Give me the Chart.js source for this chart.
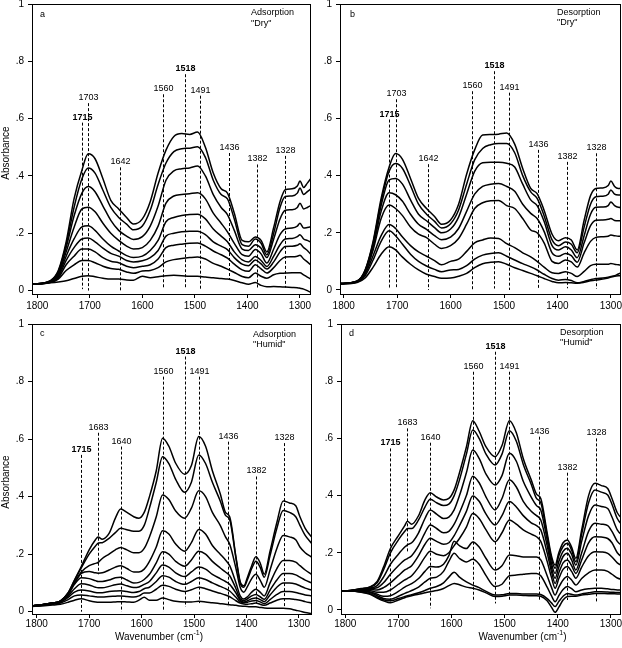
<!DOCTYPE html>
<html><head><meta charset="utf-8">
<script src="https://cdn.jsdelivr.net/npm/chart.js@4.4.1/dist/chart.umd.min.js"></script>
<style>
html,body{margin:0;padding:0;background:#fff;width:622px;height:648px;overflow:hidden}
canvas{position:absolute}
</style></head><body>
<canvas id="pa" width="318" height="316" style="left:0px;top:0px"></canvas>
<canvas id="pb" width="304" height="316" style="left:318px;top:0px"></canvas>
<canvas id="pc" width="318" height="332" style="left:0px;top:316px"></canvas>
<canvas id="pd" width="304" height="332" style="left:318px;top:316px"></canvas>
<script>
// ---------- wavenumber grids (cm-1) ----------
const gridDry = [1810,1775,1760,1745,1730,1715,1703,1690,1675,1660,1645,1630,1617,1600,1585,1570,1555,1540,1525,1510,1495,1480,1465,1450,1438,1425,1410,1398,1385,1374,1363,1350,1338,1328,1315,1305,1300,1293,1286,1276];
const gridHumid = [1810,1790,1770,1755,1740,1728,1715,1700,1688,1683,1675,1662,1650,1640,1628,1615,1605,1595,1585,1572,1560,1548,1535,1518,1505,1491,1478,1465,1450,1440,1432,1420,1412,1405,1398,1390,1382,1374,1366,1355,1342,1330,1318,1306,1298,1288,1276];

// ---------- (a) adsorption, "dry" ----------
const adsorptionDry = [
[0.022,0.035,0.07,0.17,0.32,0.42,0.477,0.46,0.39,0.315,0.285,0.255,0.232,0.25,0.31,0.41,0.49,0.538,0.548,0.545,0.553,0.50,0.41,0.355,0.34,0.27,0.175,0.17,0.187,0.175,0.135,0.22,0.31,0.352,0.355,0.365,0.382,0.36,0.375,0.40],
[0.022,0.034,0.066,0.16,0.29,0.39,0.428,0.41,0.35,0.29,0.255,0.232,0.212,0.225,0.28,0.37,0.445,0.485,0.495,0.497,0.502,0.465,0.385,0.335,0.32,0.25,0.16,0.155,0.18,0.165,0.125,0.2,0.29,0.328,0.33,0.34,0.358,0.335,0.345,0.36],
[0.022,0.033,0.062,0.15,0.26,0.34,0.363,0.345,0.295,0.245,0.21,0.19,0.178,0.188,0.225,0.295,0.385,0.418,0.425,0.428,0.435,0.40,0.335,0.29,0.265,0.21,0.145,0.14,0.16,0.148,0.115,0.18,0.25,0.28,0.282,0.29,0.305,0.285,0.29,0.30],
[0.022,0.032,0.057,0.135,0.22,0.285,0.291,0.275,0.235,0.2,0.175,0.155,0.145,0.15,0.175,0.225,0.305,0.33,0.335,0.338,0.341,0.32,0.27,0.235,0.205,0.165,0.125,0.12,0.143,0.128,0.096,0.145,0.195,0.215,0.218,0.225,0.235,0.218,0.22,0.224],
[0.022,0.031,0.052,0.12,0.18,0.222,0.226,0.21,0.18,0.155,0.138,0.122,0.115,0.12,0.14,0.175,0.24,0.255,0.262,0.265,0.266,0.25,0.215,0.19,0.17,0.135,0.107,0.1,0.119,0.105,0.084,0.12,0.16,0.18,0.182,0.188,0.195,0.18,0.175,0.166],
[0.022,0.03,0.048,0.105,0.15,0.18,0.183,0.17,0.148,0.13,0.12,0.105,0.1,0.104,0.115,0.14,0.19,0.2,0.205,0.207,0.207,0.195,0.17,0.155,0.143,0.115,0.092,0.087,0.107,0.093,0.075,0.1,0.135,0.154,0.155,0.158,0.163,0.15,0.14,0.119],
[0.022,0.029,0.044,0.09,0.12,0.145,0.145,0.135,0.115,0.102,0.097,0.085,0.08,0.085,0.09,0.11,0.15,0.158,0.162,0.165,0.166,0.155,0.138,0.125,0.113,0.092,0.072,0.067,0.09,0.076,0.061,0.08,0.105,0.117,0.118,0.12,0.123,0.11,0.1,0.084],
[0.022,0.028,0.04,0.07,0.09,0.105,0.105,0.097,0.085,0.077,0.074,0.065,0.06,0.068,0.07,0.08,0.1,0.108,0.112,0.115,0.117,0.11,0.095,0.085,0.075,0.063,0.049,0.045,0.061,0.05,0.043,0.055,0.06,0.061,0.062,0.062,0.062,0.055,0.047,0.037],
[0.022,0.027,0.03,0.034,0.042,0.05,0.052,0.048,0.043,0.04,0.04,0.037,0.036,0.05,0.045,0.048,0.052,0.053,0.052,0.05,0.05,0.047,0.045,0.042,0.04,0.035,0.027,0.022,0.028,0.018,0.013,0.014,0.013,0.012,0.011,0.01,0.008,0.005,0.0,-0.01]
];

// ---------- (b) desorption, "dry" ----------
const desorptionDry = [
[0.022,0.032,0.07,0.17,0.32,0.43,0.477,0.457,0.39,0.32,0.285,0.257,0.23,0.245,0.3,0.405,0.49,0.542,0.544,0.545,0.549,0.51,0.425,0.355,0.337,0.279,0.195,0.172,0.183,0.175,0.14,0.244,0.33,0.355,0.357,0.365,0.381,0.362,0.355,0.36],
[0.022,0.031,0.068,0.165,0.31,0.415,0.442,0.425,0.365,0.3,0.265,0.24,0.217,0.232,0.28,0.37,0.455,0.495,0.508,0.512,0.512,0.48,0.4,0.343,0.32,0.26,0.175,0.155,0.168,0.16,0.13,0.22,0.3,0.326,0.328,0.335,0.35,0.335,0.332,0.332],
[0.022,0.031,0.066,0.16,0.295,0.385,0.39,0.37,0.315,0.265,0.242,0.218,0.2,0.213,0.255,0.335,0.415,0.445,0.447,0.447,0.443,0.43,0.37,0.315,0.295,0.24,0.155,0.14,0.151,0.14,0.113,0.19,0.265,0.289,0.29,0.295,0.308,0.295,0.289,0.288],
[0.022,0.03,0.064,0.15,0.275,0.34,0.333,0.31,0.265,0.23,0.212,0.19,0.176,0.185,0.215,0.275,0.335,0.362,0.37,0.372,0.362,0.345,0.3,0.268,0.25,0.205,0.13,0.118,0.128,0.12,0.097,0.165,0.225,0.244,0.245,0.247,0.25,0.243,0.242,0.242],
[0.022,0.03,0.062,0.14,0.25,0.297,0.285,0.26,0.22,0.195,0.183,0.16,0.145,0.155,0.18,0.23,0.285,0.305,0.312,0.313,0.295,0.285,0.25,0.21,0.2,0.165,0.1,0.093,0.105,0.098,0.08,0.13,0.17,0.184,0.186,0.188,0.192,0.19,0.188,0.188],
[0.022,0.029,0.055,0.12,0.19,0.229,0.215,0.185,0.155,0.133,0.118,0.103,0.088,0.1,0.108,0.135,0.165,0.175,0.182,0.18,0.162,0.148,0.13,0.116,0.1,0.08,0.06,0.058,0.064,0.058,0.047,0.065,0.085,0.09,0.09,0.09,0.093,0.09,0.088,0.085],
[0.021,0.028,0.05,0.105,0.17,0.207,0.19,0.16,0.125,0.1,0.084,0.072,0.064,0.07,0.072,0.085,0.108,0.122,0.128,0.13,0.118,0.105,0.092,0.081,0.07,0.055,0.04,0.034,0.037,0.033,0.025,0.03,0.036,0.04,0.042,0.045,0.047,0.05,0.056,0.064],
[0.02,0.026,0.042,0.08,0.125,0.151,0.14,0.115,0.09,0.07,0.055,0.047,0.041,0.042,0.048,0.058,0.078,0.092,0.097,0.099,0.09,0.078,0.068,0.058,0.05,0.04,0.03,0.025,0.026,0.025,0.024,0.027,0.032,0.035,0.038,0.042,0.045,0.048,0.05,0.052]
];

// ---------- (c) adsorption, "humid" ----------
const adsorptionHumid = [
[0.02,0.024,0.03,0.037,0.066,0.11,0.157,0.215,0.25,0.26,0.252,0.272,0.325,0.357,0.345,0.33,0.325,0.345,0.4,0.49,0.603,0.575,0.516,0.478,0.508,0.609,0.575,0.49,0.41,0.345,0.33,0.19,0.105,0.09,0.12,0.16,0.191,0.17,0.13,0.21,0.31,0.385,0.378,0.368,0.33,0.29,0.26],
[0.02,0.024,0.03,0.037,0.065,0.108,0.152,0.2,0.228,0.238,0.24,0.255,0.275,0.29,0.285,0.28,0.28,0.3,0.36,0.45,0.539,0.515,0.46,0.415,0.45,0.545,0.515,0.45,0.385,0.335,0.32,0.185,0.1,0.085,0.112,0.15,0.175,0.155,0.12,0.195,0.29,0.352,0.345,0.33,0.3,0.265,0.238],
[0.02,0.024,0.03,0.037,0.063,0.1,0.138,0.16,0.168,0.171,0.185,0.2,0.215,0.223,0.215,0.205,0.205,0.22,0.26,0.33,0.406,0.39,0.35,0.325,0.36,0.42,0.4,0.345,0.3,0.26,0.235,0.15,0.085,0.068,0.088,0.115,0.13,0.11,0.085,0.145,0.22,0.265,0.26,0.25,0.225,0.205,0.19],
[0.02,0.024,0.03,0.037,0.062,0.1,0.133,0.14,0.135,0.134,0.135,0.145,0.155,0.16,0.15,0.138,0.138,0.148,0.175,0.225,0.281,0.27,0.235,0.21,0.24,0.286,0.27,0.23,0.2,0.18,0.16,0.1,0.055,0.044,0.052,0.068,0.078,0.068,0.055,0.1,0.15,0.178,0.178,0.172,0.16,0.145,0.13],
[0.02,0.024,0.03,0.037,0.06,0.095,0.118,0.115,0.108,0.105,0.105,0.11,0.118,0.12,0.11,0.1,0.102,0.112,0.13,0.17,0.208,0.2,0.175,0.158,0.18,0.21,0.2,0.175,0.152,0.138,0.125,0.08,0.045,0.039,0.045,0.055,0.06,0.052,0.043,0.075,0.11,0.133,0.133,0.128,0.12,0.11,0.1],
[0.02,0.024,0.029,0.035,0.055,0.08,0.097,0.093,0.085,0.083,0.083,0.088,0.094,0.096,0.09,0.084,0.086,0.095,0.105,0.135,0.162,0.155,0.135,0.122,0.138,0.155,0.148,0.13,0.115,0.105,0.095,0.065,0.04,0.034,0.038,0.045,0.048,0.042,0.035,0.058,0.085,0.1,0.1,0.096,0.09,0.082,0.075],
[0.02,0.023,0.028,0.033,0.05,0.068,0.075,0.072,0.067,0.066,0.066,0.07,0.072,0.073,0.07,0.067,0.07,0.08,0.085,0.105,0.125,0.12,0.105,0.095,0.105,0.118,0.112,0.1,0.088,0.08,0.072,0.05,0.035,0.031,0.033,0.037,0.039,0.034,0.028,0.042,0.06,0.07,0.07,0.067,0.063,0.058,0.055],
[0.019,0.022,0.026,0.03,0.042,0.055,0.058,0.055,0.052,0.051,0.051,0.053,0.054,0.055,0.053,0.051,0.055,0.065,0.065,0.078,0.092,0.088,0.078,0.07,0.076,0.085,0.08,0.072,0.064,0.058,0.052,0.038,0.03,0.027,0.026,0.028,0.03,0.026,0.022,0.03,0.04,0.045,0.045,0.042,0.04,0.035,0.03],
[0.018,0.02,0.023,0.026,0.033,0.04,0.045,0.038,0.034,0.033,0.033,0.033,0.034,0.035,0.034,0.033,0.04,0.05,0.04,0.04,0.048,0.042,0.036,0.034,0.034,0.036,0.034,0.031,0.028,0.026,0.024,0.022,0.02,0.019,0.018,0.017,0.017,0.015,0.013,0.012,0.012,0.012,0.01,0.005,0.002,-0.003,-0.006]
];

// ---------- (d) desorption, "humid" ----------
const desorptionHumid = [
[0.066,0.068,0.075,0.08,0.1,0.15,0.215,0.26,0.295,0.31,0.3,0.33,0.385,0.41,0.395,0.385,0.39,0.42,0.48,0.57,0.662,0.625,0.57,0.536,0.575,0.662,0.62,0.53,0.455,0.405,0.39,0.27,0.19,0.157,0.2,0.235,0.245,0.22,0.181,0.28,0.4,0.443,0.435,0.425,0.39,0.34,0.315],
[0.066,0.068,0.074,0.079,0.095,0.14,0.2,0.245,0.275,0.285,0.285,0.315,0.36,0.387,0.375,0.365,0.37,0.4,0.455,0.545,0.629,0.6,0.545,0.507,0.545,0.627,0.59,0.51,0.44,0.39,0.375,0.26,0.18,0.146,0.19,0.222,0.233,0.21,0.169,0.265,0.375,0.42,0.412,0.402,0.37,0.32,0.291],
[0.066,0.068,0.073,0.077,0.085,0.115,0.16,0.195,0.22,0.228,0.235,0.27,0.32,0.35,0.335,0.32,0.325,0.35,0.4,0.48,0.559,0.53,0.475,0.437,0.47,0.548,0.52,0.45,0.395,0.365,0.35,0.245,0.165,0.128,0.17,0.205,0.216,0.195,0.157,0.24,0.33,0.367,0.362,0.355,0.325,0.28,0.256],
[0.066,0.068,0.072,0.075,0.078,0.095,0.125,0.155,0.175,0.18,0.19,0.225,0.27,0.297,0.285,0.27,0.275,0.3,0.34,0.4,0.468,0.445,0.395,0.35,0.39,0.455,0.43,0.38,0.345,0.33,0.315,0.225,0.15,0.111,0.15,0.187,0.198,0.175,0.14,0.2,0.275,0.303,0.3,0.295,0.275,0.24,0.221],
[0.066,0.067,0.07,0.072,0.07,0.078,0.095,0.12,0.14,0.145,0.155,0.19,0.23,0.251,0.24,0.23,0.235,0.26,0.295,0.345,0.399,0.38,0.335,0.297,0.33,0.379,0.36,0.33,0.305,0.295,0.28,0.2,0.135,0.093,0.13,0.165,0.175,0.155,0.128,0.175,0.235,0.256,0.255,0.25,0.235,0.2,0.181],
[0.066,0.067,0.068,0.068,0.062,0.062,0.07,0.09,0.105,0.11,0.12,0.15,0.185,0.205,0.195,0.19,0.2,0.225,0.25,0.29,0.337,0.32,0.28,0.239,0.27,0.315,0.3,0.28,0.265,0.256,0.24,0.17,0.115,0.076,0.11,0.142,0.152,0.135,0.111,0.15,0.19,0.204,0.203,0.198,0.185,0.165,0.152],
[0.066,0.066,0.066,0.064,0.055,0.048,0.05,0.065,0.08,0.085,0.092,0.11,0.135,0.152,0.15,0.16,0.19,0.24,0.225,0.215,0.238,0.22,0.18,0.14,0.155,0.192,0.19,0.185,0.185,0.185,0.175,0.12,0.08,0.052,0.08,0.105,0.117,0.105,0.087,0.11,0.13,0.14,0.14,0.135,0.125,0.112,0.105],
[0.066,0.066,0.065,0.062,0.05,0.04,0.038,0.048,0.058,0.062,0.068,0.08,0.098,0.111,0.115,0.135,0.17,0.198,0.18,0.168,0.177,0.16,0.12,0.082,0.09,0.12,0.122,0.125,0.128,0.128,0.12,0.08,0.05,0.029,0.05,0.072,0.082,0.075,0.064,0.07,0.074,0.076,0.076,0.074,0.072,0.07,0.07],
[0.066,0.066,0.063,0.058,0.045,0.036,0.032,0.04,0.047,0.05,0.053,0.06,0.068,0.076,0.082,0.095,0.115,0.132,0.115,0.098,0.087,0.078,0.065,0.052,0.053,0.058,0.058,0.056,0.056,0.056,0.054,0.04,0.025,0.012,0.03,0.048,0.058,0.055,0.052,0.056,0.06,0.064,0.064,0.063,0.062,0.061,0.061],
[0.066,0.066,0.062,0.056,0.042,0.032,0.025,0.035,0.043,0.046,0.05,0.055,0.06,0.064,0.068,0.075,0.085,0.093,0.088,0.08,0.076,0.07,0.06,0.047,0.048,0.052,0.052,0.051,0.05,0.05,0.048,0.032,0.01,-0.008,0.01,0.035,0.047,0.048,0.048,0.052,0.055,0.058,0.058,0.057,0.057,0.056,0.056]
];

// ---------- band markers ----------
const bandsDry = [1715,1703,1642,1560,1518,1491,1436,1382,1328];
const bandsHumid = [1715,1683,1640,1560,1518,1491,1436,1382,1328];
const boldBands = [1715,1518];
const markTopA = [0.586,0.654,0.43,0.685,0.755,0.68,0.48,0.44,0.47];
const markBotA = [0.005,0.0,0.0,0.01,0.01,0.005,0.04,0.01,0.01];
const markTopB = [0.596,0.667,0.44,0.695,0.765,0.69,0.49,0.448,0.478];
const markBotB = [0.006,0.01,0.0,0.0,0.005,0.0,0.004,0.006,0.004];
const markTopC = [0.545,0.622,0.574,0.817,0.887,0.817,0.591,0.47,0.586];
const markBotC = [0.0,0.13,0.0,0.0,0.017,0.03,0.017,0.03,0.017];
const markTopD = [0.565,0.635,0.585,0.833,0.903,0.833,0.606,0.48,0.6];
const markBotD = [0.023,0.2,0.006,0.035,0.023,0.033,0.029,0.035,0.023];

const FONT = '"Liberation Sans", Arial, Helvetica, sans-serif';

const panelPlugin = {
  id: 'panel',
  afterDatasetsDraw(chart) {
    const p = chart.options.plugins.panel;
    const {ctx, chartArea: ca, scales: {x, y}} = chart;
    ctx.save();
    ctx.strokeStyle = '#000';
    ctx.fillStyle = '#000';
    ctx.lineWidth = 1;
    // dashed band markers
    ctx.setLineDash([3, 2]);
    p.bands.forEach((w, i) => {
      const px = Math.round(x.getPixelForValue(w)) + 0.5;
      const yt = y.getPixelForValue(p.top[i]);
      const yb = y.getPixelForValue(p.bot[i]);
      ctx.beginPath(); ctx.moveTo(px, yt); ctx.lineTo(px, yb); ctx.stroke();
      ctx.font = (boldBands.includes(w) ? 'bold ' : '') + '9px ' + FONT;
      ctx.textAlign = 'center'; ctx.textBaseline = 'alphabetic';
      ctx.fillText(String(w), px, yt - 3);
    });
    ctx.setLineDash([]);
    // frame
    ctx.strokeRect(ca.left + 0.5, ca.top + 0.5, ca.right - ca.left - 1, ca.bottom - ca.top);
    // panel texts
    ctx.font = '9px ' + FONT;
    ctx.textAlign = 'left'; ctx.textBaseline = 'middle';
    ctx.fillText(p.letter, p.letterPos[0], p.letterPos[1]);
    ctx.fillText(p.mode, p.modePos[0], p.modePos[1]);
    ctx.fillText(p.cond, p.modePos[0], p.modePos[1] + p.lineGap);
    // axis titles
    if (p.yTitle) {
      ctx.save();
      ctx.font = '10px ' + FONT;
      ctx.translate(p.yTitlePos[0], p.yTitlePos[1]);
      ctx.rotate(-Math.PI / 2);
      ctx.textAlign = 'center'; ctx.textBaseline = 'middle';
      ctx.fillText(p.yTitle, 0, 0);
      ctx.restore();
    }
    if (p.xTitle) {
      ctx.font = '10px ' + FONT;
      ctx.textBaseline = 'middle';
      const a = 'Wavenumber (cm', sup = '-1', b = ')';
      const wa = ctx.measureText(a).width, wb = ctx.measureText(b).width;
      ctx.font = '7px ' + FONT;
      const ws = ctx.measureText(sup).width;
      let sx = p.xTitlePos[0] - (wa + ws + wb) / 2;
      const sy = p.xTitlePos[1];
      ctx.font = '10px ' + FONT; ctx.textAlign = 'left';
      ctx.fillText(a, sx, sy);
      ctx.font = '7px ' + FONT;
      ctx.fillText(sup, sx + wa, sy - 4);
      ctx.font = '10px ' + FONT;
      ctx.fillText(b, sx + wa + ws, sy);
    }
    ctx.restore();
  }
};

function yFmt(v) {
  const r = Math.round(v * 10) / 10;
  if (r === 0) return '0';
  if (r === 1) return '1';
  return String(r).replace('0.', '.');
}
function xFmt(v) { return String(Math.round(v)); }

function build(id, grid, curves, o) {
  const datasets = curves.map(c => ({
    data: grid.map((w, i) => ({x: w, y: c[i]})),
    borderColor: '#000', borderWidth: 1.5, pointRadius: 0,
    cubicInterpolationMode: 'monotone', fill: false
  }));
  new Chart(document.getElementById(id), {
    type: 'line',
    data: {datasets},
    plugins: [panelPlugin],
    options: {
      responsive: false, animation: false, devicePixelRatio: 1,
      layout: {padding: {left: 0, right: o.padR, top: o.padT, bottom: 0}},
      plugins: {
        legend: {display: false}, tooltip: {enabled: false},
        panel: o.panel
      },
      scales: {
        x: {
          type: 'linear', reverse: true, min: o.xMin, max: o.xMax,
          ticks: {stepSize: 100, includeBounds: false, color: '#000', font: {family: FONT, size: 10}, padding: o.xPad, maxRotation: 0, autoSkip: false, callback: xFmt},
          grid: {drawOnChartArea: false, drawTicks: true, tickLength: 4, color: '#000'},
          border: {display: false},
          afterFit: s => { s.height = o.xH; s.paddingLeft = 0; s.paddingRight = 0; }
        },
        y: {
          type: 'linear', min: o.yMin, max: 1,
          ticks: {stepSize: 0.2, includeBounds: false, color: '#000', font: {family: FONT, size: 10}, padding: 4, callback: yFmt},
          grid: {drawOnChartArea: false, drawTicks: true, tickLength: 4, color: '#000'},
          border: {display: false},
          afterFit: s => { s.width = o.yW; s.paddingTop = 0; s.paddingBottom = 0; }
        }
      }
    }
  });
}

build('pa', gridDry, adsorptionDry, {
  xMin: 1279, xMax: 1810, yMin: -0.012, padR: 7, padT: 4, xH: 22, yW: 32, xPad: 2,
  panel: {bands: bandsDry, top: markTopA, bot: markBotA, letter: 'a', letterPos: [40, 15],
    mode: 'Adsorption', cond: '"Dry"', modePos: [251, 13], lineGap: 10.5,
    yTitle: 'Absorbance', yTitlePos: [6, 153]}
});
build('pb', gridDry, desorptionDry, {
  xMin: 1281, xMax: 1807, yMin: -0.014, padR: 1, padT: 4, xH: 22, yW: 22, xPad: 2,
  panel: {bands: bandsDry, top: markTopB, bot: markBotB, letter: 'b', letterPos: [32, 15],
    mode: 'Desorption', cond: '"Dry"', modePos: [239, 12.5], lineGap: 10.5}
});
build('pc', gridHumid, adsorptionHumid, {
  xMin: 1275, xMax: 1809, yMin: -0.008, padR: 6, padT: 8, xH: 34, yW: 32, xPad: 0,
  panel: {bands: bandsHumid, top: markTopC, bot: markBotC, letter: 'c', letterPos: [40, 17.5],
    mode: 'Adsorption', cond: '"Humid"', modePos: [253, 18.5], lineGap: 10.5,
    yTitle: 'Absorbance', yTitlePos: [6, 166], xTitle: true, xTitlePos: [159, 321]}
});
build('pd', gridHumid, desorptionHumid, {
  xMin: 1281, xMax: 1808, yMin: -0.014, padR: 1, padT: 8, xH: 34, yW: 23, xPad: 0,
  panel: {bands: bandsHumid, top: markTopD, bot: markBotD, letter: 'd', letterPos: [31, 17.5],
    mode: 'Desorption', cond: '"Humid"', modePos: [242, 17], lineGap: 10,
    xTitle: true, xTitlePos: [204.5, 321]}
});
</script>
</body></html>
